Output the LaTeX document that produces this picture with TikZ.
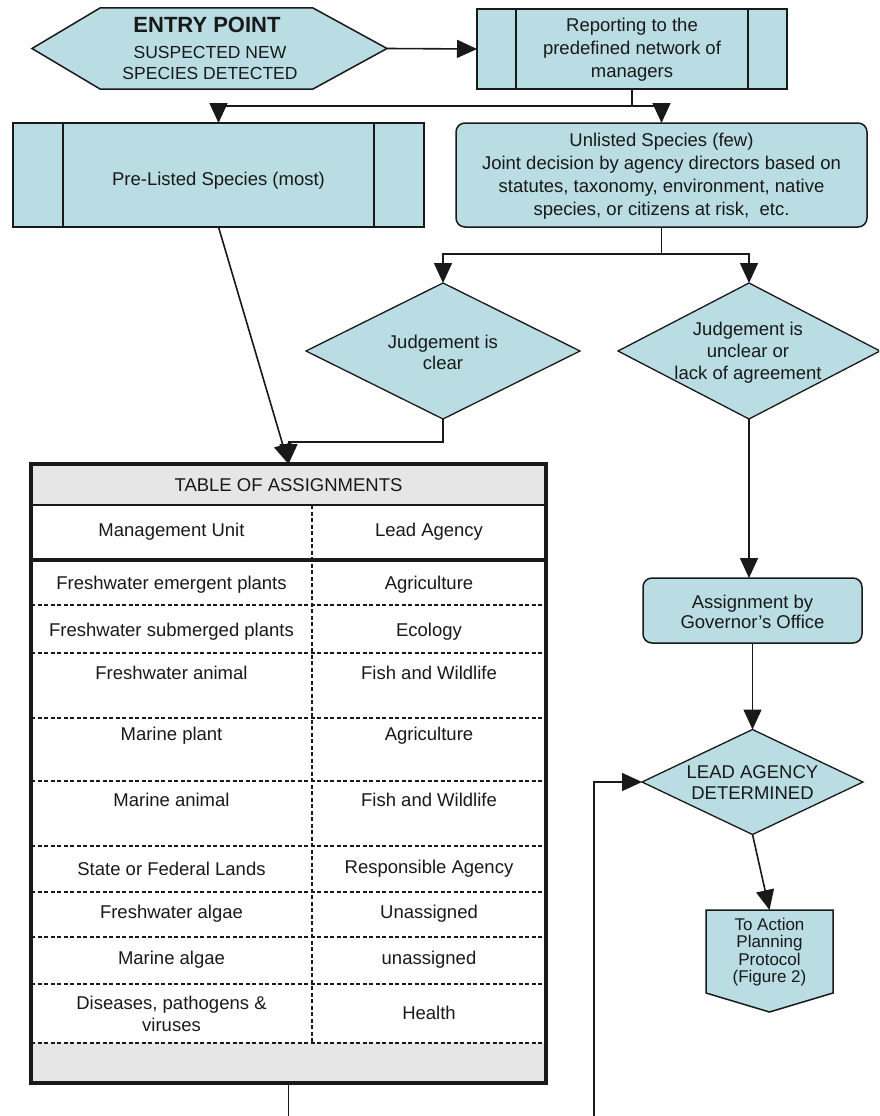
\documentclass[tikz,border=0pt]{standalone}
\usepackage{fontspec}
\setmainfont{Liberation Sans}
\usetikzlibrary{shapes.geometric,arrows.meta,calc}
\definecolor{boxfill}{RGB}{185,221,227}
\definecolor{hdrgrey}{RGB}{230,230,230}
\definecolor{ink}{RGB}{25,25,25}
\begin{document}
\begin{tikzpicture}[x=1pt,y=-1pt,
  every node/.style={font=\fontsize{18.5}{23}\selectfont, text=ink},
  boxbase/.style={draw=ink, line width=1.5pt, fill=boxfill, inner sep=0pt, outer sep=0pt},
  procbox/.style={boxbase, rectangle},
  roundbox/.style={boxbase, rectangle, rounded corners=9pt},
  decision/.style={boxbase, diamond, line width=1.3pt},
  txt/.style={align=center, inner sep=0pt},
  cell/.style={inner sep=0pt, align=center},
  anchorbox/.style={draw=none, inner sep=0pt, outer sep=0pt, rectangle},
  conn/.style={draw=ink, line width=1.6pt},
  arr/.style={conn, -{Triangle[length=20pt,width=18pt]}},
  dashedline/.style={draw=ink, line width=1.1pt, dash pattern=on 4pt off 2.5pt},
]
\useasboundingbox (0,0) rectangle (879,1116);
\clip (0,0) rectangle (879,1116);
\fill[white] (0,0) rectangle (879,1116);

% ---------- entry hexagon ----------
\node[anchorbox, minimum width=213pt, minimum height=81pt] (entry) at (206.5,48.5) {};
\draw[boxbase] (entry.north west) -- (entry.north east)
  -- ($(entry.east)+(74,0)$) coordinate (entrytip)
  -- (entry.south east) -- (entry.south west)
  -- ($(entry.west)+(-68,0)$) -- cycle;
\node[txt, font=\fontsize{22}{24}\selectfont\bfseries] (entryA) at (207,25) {ENTRY POINT};
\node[txt, font=\fontsize{17.5}{21}\selectfont] (entryB) at (210,52) {SUSPECTED NEW};
\node[txt, font=\fontsize{17.5}{21}\selectfont] (entryC) at (210,73) {SPECIES DETECTED};

% ---------- reporting ----------
\node[procbox, minimum width=310pt, minimum height=80pt] (rep) at (632,49) {};
\draw[conn] ([xshift=39pt]rep.north west) -- ([xshift=39pt]rep.south west);
\draw[conn] ([xshift=-39pt]rep.north east) -- ([xshift=-39pt]rep.south east);
\node[txt] (reptext) at (632,50) {Reporting to the\\predefined network of\\managers};

% ---------- pre-listed ----------
\node[procbox, minimum width=411pt, minimum height=104pt] (pre) at (218.5,175) {};
\draw[conn] ([xshift=50pt]pre.north west) -- ([xshift=50pt]pre.south west);
\draw[conn] ([xshift=-50pt]pre.north east) -- ([xshift=-50pt]pre.south east);
\node[txt] (pretext) at (218.5,181) {Pre-Listed Species (most)};

% ---------- unlisted ----------
\node[roundbox, minimum width=411pt, minimum height=104pt] (unl) at (661.5,175) {};
\node[txt] (unltext) at (661.5,176) {Unlisted Species (few)\\Joint decision by agency directors based on\\statutes, taxonomy, environment, native\\species, or citizens at risk,\ \ etc.};

% ---------- decisions ----------
\node[decision, minimum width=274pt, minimum height=136pt] (jc) at (443,351) {};
\node[txt, font=\fontsize{18.5}{21}\selectfont] (jctext) at (443,352) {Judgement is\\clear};
\node[decision, minimum width=262pt, minimum height=136pt] (ju) at (749,351) {};
\node[txt, font=\fontsize{18.5}{22}\selectfont] (jutext) at (748,353) {Judgement is\\unclear or\\lack of agreement};

% ---------- assignment by governor ----------
\node[roundbox, minimum width=219pt, minimum height=65pt] (asg) at (752.5,610.5) {};
\node[txt, font=\fontsize{18.5}{20}\selectfont] (asgtext) at (752.5,612) {Assignment by\\Governor's Office};

% ---------- lead agency ----------
\node[decision, minimum width=221pt, minimum height=105pt] (lead) at (752.5,782) {};
\node[txt, font=\fontsize{18.5}{21}\selectfont] (leadtext) at (752.5,783) {LEAD AGENCY\\DETERMINED};

% ---------- action (off-page) ----------
\node[anchorbox, minimum width=127pt, minimum height=83pt] (action) at (769.5,951.5) {};
\draw[boxbase] (action.north west) -- (action.north east) -- (action.south east)
  -- ($(action.south)+(0,19)$) -- (action.south west) -- cycle;
\node[txt, font=\fontsize{17}{17.3}\selectfont] (actiontext) at (769.5,952) {To Action\\Planning\\Protocol\\(Figure 2)};

% ---------- table ----------
\node[anchorbox, minimum width=515pt, minimum height=619pt] (table) at (288.5,773.5) {};
\fill[hdrgrey] (table.north west) rectangle (546,505);
\fill[hdrgrey] (31,1043) rectangle (table.south east);
\draw[ink, line width=1.4pt] (31,505) -- (546,505);
\draw[ink, line width=4pt] (31,560) -- (546,560);
\foreach \yy in {605,653,718,781,846,892,937,984,1043}
  \draw[dashedline] (31,\yy) -- (546,\yy);
\draw[dashedline] (312,505) -- (312,1043);
\draw[ink, line width=3.5pt] (table.north west) rectangle (table.south east);

\node[cell] (thead) at (288.5,485) {TABLE OF ASSIGNMENTS};
\node[cell] (hA) at (171.5,532) {Management Unit};
\node[cell] (hB) at (429,532) {Lead Agency};
\node[cell] (r1a) at (171.5,585) {Freshwater emergent plants};
\node[cell] (r1b) at (429,585) {Agriculture};
\node[cell] (r2a) at (171.5,632) {Freshwater submerged plants};
\node[cell] (r2b) at (429,632) {Ecology};
\node[cell] (r3a) at (171.5,673) {Freshwater animal};
\node[cell] (r3b) at (429,673) {Fish and Wildlife};
\node[cell] (r4a) at (171.5,736) {Marine plant};
\node[cell] (r4b) at (429,736) {Agriculture};
\node[cell] (r5a) at (171.5,800) {Marine animal};
\node[cell] (r5b) at (429,800) {Fish and Wildlife};
\node[cell] (r6a) at (171.5,869) {State or Federal Lands};
\node[cell] (r6b) at (429,869) {Responsible Agency};
\node[cell] (r7a) at (171.5,914) {Freshwater algae};
\node[cell] (r7b) at (429,914) {Unassigned};
\node[cell] (r8a) at (171.5,960) {Marine algae};
\node[cell] (r8b) at (429,960) {unassigned};
\node[cell, font=\fontsize{18.5}{22}\selectfont] (r9a) at (171.5,1014) {Diseases, pathogens \&\\viruses};
\node[cell] (r9b) at (429,1013) {Health};

% ---------- connectors ----------
\draw[arr] (entrytip) -- (rep.west);
\coordinate (split1) at (632,106);
\draw[conn] (rep.south) -- (split1);
\draw[arr] (split1) -| (pre.north);
\draw[arr] (split1) -| (unl.north);
\coordinate (split2) at (661.5,254);
\draw[conn] (unl.south) -- (split2);
\draw[arr] (split2) -| (jc.north);
\draw[arr] (split2) -| (ju.north);
\draw[arr] (pre.south) -- (table.north);
\draw[arr] (jc.south) -- ++(0,23) -| (table.north);
\draw[arr] (ju.south) -- (ju.south |- asg.north);
\draw[arr] (asg.south) -- (lead.north);
\draw[arr] (lead.south) -- (action.north);
\coordinate (loopc) at (594,1135);
\draw[arr] (table.south) |- (loopc) |- (lead.west);
\end{tikzpicture}
\end{document}
